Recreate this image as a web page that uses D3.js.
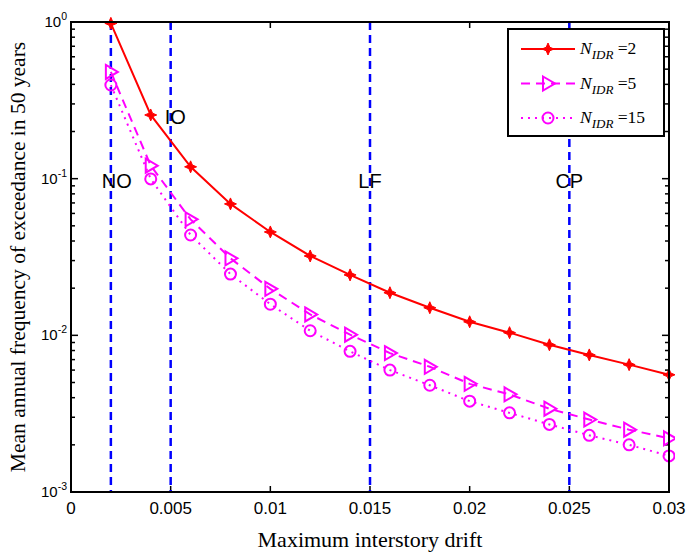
<!DOCTYPE html>
<html>
<head>
<meta charset="utf-8">
<script src="https://cdn.jsdelivr.net/npm/d3@7"></script>
<style>
body { margin: 0; background: #fff; }
svg { display: block; }
</style>
</head>
<body>
<div id="chart"></div>
<script>
// data
var drift = [0.002, 0.004, 0.006, 0.008, 0.010, 0.012, 0.014, 0.016, 0.018, 0.020, 0.022, 0.024, 0.026, 0.028, 0.030];
var n2  = [0.98, 0.255, 0.119, 0.069, 0.0457, 0.0321, 0.0243, 0.0187, 0.0150, 0.0122, 0.0104, 0.0087, 0.0075, 0.0065, 0.0056];
var n5  = [0.48, 0.121, 0.055, 0.031, 0.0198, 0.0136, 0.0101, 0.0077, 0.0063, 0.0049, 0.0042, 0.0034, 0.0029, 0.0025, 0.0022];
var n15 = [0.396, 0.0996, 0.0437, 0.0246, 0.0158, 0.0107, 0.0079, 0.0060, 0.0048, 0.0038, 0.0032, 0.0027, 0.0023, 0.0020, 0.0017];
var limitX = [0.002, 0.005, 0.015, 0.025];
var limitNames = ["NO", "IO", "LF", "CP"];
var limitLabelY = [0.087, 0.223, 0.087, 0.087];
var xTicks = [0, 0.005, 0.01, 0.015, 0.02, 0.025, 0.03];
var xTickLabels = ["0", "0.005", "0.01", "0.015", "0.02", "0.025", "0.03"];
var yTicks = [1, 0.1, 0.01, 0.001];
var yExps = ["0", "-1", "-2", "-3"];

var W = 687, H = 552;
var margin = {top: 22, right: 18, bottom: 60, left: 71};
var width = W - margin.left - margin.right,
    height = H - margin.top - margin.bottom;

var svg = d3.select("#chart").append("svg")
  .attr("width", W).attr("height", H);
var g = svg.append("g")
  .attr("transform", "translate(" + margin.left + "," + margin.top + ")");

var x = d3.scaleLinear().domain([0, 0.03]).range([0, width]);
var y = d3.scaleLog().domain([0.001, 1]).range([height, 0]);

// clip for the series
svg.append("defs").append("clipPath").attr("id", "clip")
  .append("rect").attr("x", -6).attr("y", -6).attr("width", width + 12).attr("height", height + 6);

// minor log ticks
var minor = [];
[0.001, 0.01, 0.1].forEach(function(d) {
  for (var k = 2; k <= 9; k++) minor.push(d * k);
});

var tickFont = "Arial, 'Liberation Sans', sans-serif";
var serif = "'Times New Roman', 'Liberation Serif', serif";

// left / right axes
[["left", 0, 1], ["right", width, -1]].forEach(function(a) {
  var ax = g.append("g").attr("transform", "translate(" + a[1] + ",0)");
  ax.selectAll(".mj").data(yTicks).enter().append("line")
    .attr("x1", 0).attr("x2", 7 * a[2])
    .attr("y1", function(d) { return y(d); }).attr("y2", function(d) { return y(d); })
    .attr("stroke", "#000").attr("stroke-width", 1.5);
  ax.selectAll(".mn").data(minor).enter().append("line")
    .attr("x1", 0).attr("x2", 4 * a[2])
    .attr("y1", function(d) { return y(d); }).attr("y2", function(d) { return y(d); })
    .attr("stroke", "#000").attr("stroke-width", 1.5);
});

// x ticks top and bottom
[[height, -1], [0, 1]].forEach(function(a) {
  g.selectAll(null).data(xTicks).enter().append("line")
    .attr("x1", function(d) { return x(d); }).attr("x2", function(d) { return x(d); })
    .attr("y1", a[0]).attr("y2", a[0] + 6 * a[1])
    .attr("stroke", "#000").attr("stroke-width", 1.5);
});

// x tick labels
g.selectAll(".xl").data(xTicks).enter().append("text")
  .attr("x", function(d) { return x(d); })
  .attr("y", height + 22)
  .attr("text-anchor", "middle")
  .style("font-family", tickFont).style("font-size", "17px")
  .text(function(d, i) { return xTickLabels[i]; });

// y tick labels: 10^n
var yl = g.selectAll(".yl").data(yTicks).enter().append("text")
  .attr("x", -4)
  .attr("y", function(d) { return y(d) + 5; })
  .attr("text-anchor", "end")
  .style("font-family", tickFont).style("font-size", "15px");
yl.append("tspan").text("10");
yl.append("tspan").attr("dy", -7).style("font-size", "10.5px").text(function(d, i) { return yExps[i]; });

// limit state lines
g.selectAll(".lim").data(limitX).enter().append("line")
  .attr("x1", function(d) { return x(d); }).attr("x2", function(d) { return x(d); })
  .attr("y1", 0).attr("y2", height)
  .attr("stroke", "#0000ff").attr("stroke-width", 2.5)
  .attr("stroke-dasharray", "8,5");

g.selectAll(".liml").data(limitNames).enter().append("text")
  .attr("x", function(d, i) { return x(limitX[i]); })
  .attr("y", function(d, i) { return y(limitLabelY[i]); })
  .attr("text-anchor", function(d, i) { return i < 2 ? "start" : "middle"; })
  .attr("dx", function(d, i) { return i == 0 ? -9 : (i == 1 ? -6 : 0); })
  .style("font-family", tickFont).style("font-size", "20px")
  .text(function(d) { return d; });

// series
var series = [
  {name: "2", values: n2, color: "#ff0000", dash: null, marker: "star"},
  {name: "5", values: n5, color: "#ff00ff", dash: "9,6", marker: "tri"},
  {name: "15", values: n15, color: "#ff00ff", dash: "2,5", marker: "circ"}
];

var line = d3.line()
  .x(function(d) { return x(d[0]); })
  .y(function(d) { return y(d[1]); });

var plot = g.append("g").attr("clip-path", "url(#clip)");

function drawMarker(sel, type, color) {
  if (type == "star") {
    sel.append("path")
      .attr("d", "M0,-6 L1.8,-1.8 L6,0 L1.8,1.8 L0,6 L-1.8,1.8 L-6,0 L-1.8,-1.8 Z")
      .attr("fill", color).attr("stroke", color).attr("stroke-width", 1);
  } else if (type == "tri") {
    sel.append("path")
      .attr("d", "M-5,-7 L7,0 L-5,7 Z")
      .attr("fill", "none").attr("stroke", color).attr("stroke-width", 2);
  } else {
    sel.append("circle").attr("r", 5.5)
      .attr("fill", "none").attr("stroke", color).attr("stroke-width", 2);
  }
}

series.forEach(function(s) {
  var pts = drift.map(function(d, i) { return [d, s.values[i]]; });
  plot.append("path")
    .attr("d", line(pts))
    .attr("fill", "none")
    .attr("stroke", s.color)
    .attr("stroke-width", 2)
    .attr("stroke-dasharray", s.dash);
  pts.forEach(function(p) {
    var m = plot.append("g").attr("transform", "translate(" + x(p[0]) + "," + y(p[1]) + ")");
    drawMarker(m, s.marker, s.color);
  });
});

// frame
g.append("rect")
  .attr("width", width).attr("height", height)
  .attr("fill", "none").attr("stroke", "#000").attr("stroke-width", 2);

// legend
var lg = g.append("g").attr("transform", "translate(" + (508 - margin.left) + "," + (29 - margin.top) + ")");
lg.append("rect").attr("width", 156).attr("height", 107)
  .attr("fill", "#fff").attr("stroke", "#000").attr("stroke-width", 2);
series.forEach(function(s, i) {
  var ly = 20 + i * 34.5;
  lg.append("line").attr("x1", 13).attr("x2", 67).attr("y1", ly).attr("y2", ly)
    .attr("stroke", s.color).attr("stroke-width", 2).attr("stroke-dasharray", s.dash);
  drawMarker(lg.append("g").attr("transform", "translate(40," + ly + ")"), s.marker, s.color);
  var t = lg.append("text").attr("x", 72).attr("y", ly + 5)
    .style("font-family", serif).style("font-size", "17.5px");
  t.append("tspan").style("font-style", "italic").text("N");
  t.append("tspan").attr("dy", 5).style("font-style", "italic").style("font-size", "13px").text("IDR");
  t.append("tspan").attr("dy", -5).text(" =" + s.name);
});

// axis titles
svg.append("text")
  .attr("x", margin.left + width / 2).attr("y", H - 5)
  .attr("text-anchor", "middle")
  .style("font-family", serif).style("font-size", "22px")
  .text("Maximum interstory drift");
svg.append("text")
  .attr("transform", "translate(25," + (margin.top + height / 2) + ") rotate(-90)")
  .attr("text-anchor", "middle")
  .style("font-family", serif).style("font-size", "21.5px")
  .text("Mean annual frequency of exceedance in 50 years");
</script>
</body>
</html>
